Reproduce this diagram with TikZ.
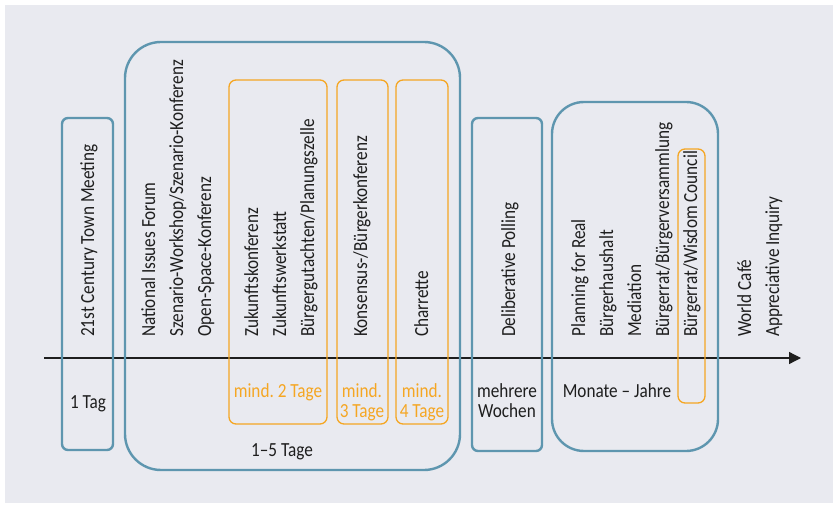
\documentclass[tikz,border=0pt]{standalone}
\usepackage{fontspec}
\setmainfont{Carlito}[FakeStretch=0.86]
\usetikzlibrary{arrows.meta}
\definecolor{bg}{HTML}{E9EAF0}
\definecolor{frameblue}{HTML}{5E96AF}
\definecolor{markorange}{HTML}{F5A623}
\definecolor{ink}{HTML}{1E1E1E}
\frenchspacing

\begin{document}
\begin{tikzpicture}[x=1pt,y=-1pt,
  bluebox/.style={draw=frameblue,line width=2.4pt},
  orangebox/.style={draw=markorange,line width=1.3pt},
  txt/.style={inner sep=0pt,text=ink,font=\fontsize{20}{24}\selectfont},
  method/.style={txt,rotate=90,anchor=base west},
  dur/.style={txt,anchor=base},
  durorange/.style={dur,text=markorange},
  axisline/.style={draw=ink,line width=1.3pt,-{Triangle[length=12pt,width=12pt]}}
]
% canvas and panel
\useasboundingbox (0,0) rectangle (833,505);
\fill[white] (0,0) rectangle (833,505);
\fill[bg] (5,5) rectangle (833,503);

% time axis
\coordinate (axstart) at (44,358);
\coordinate (axend) at (801,358);
\draw[axisline] (axstart) -- (axend);

% duration groups
\draw[bluebox,rounded corners=6pt] (62,118) rectangle (113,450);
\draw[bluebox,rounded corners=36pt] (125,42) rectangle (460,470);
\draw[orangebox,rounded corners=7pt] (229,80) rectangle (327,424);
\draw[orangebox,rounded corners=7pt] (337,80) rectangle (388,424);
\draw[orangebox,rounded corners=7pt] (396,80) rectangle (448,424);
\draw[bluebox,rounded corners=6pt] (472,118) rectangle (542,451);
\draw[bluebox,rounded corners=32pt] (552,102) rectangle (718,451);
\draw[orangebox,rounded corners=7pt] (678,149) rectangle (705,403);

% methods
\node[method] (m01) at (94,337)  {21st Century Town Meeting};
\node[method] (m02) at (155,337) {National Issues Forum};
\node[method] (m03) at (183,337) {Szenario-Workshop/Szenario-Konferenz};
\node[method] (m04) at (211,337) {Open-Space-Konferenz};
\node[method] (m05) at (258,337) {Zukunftskonferenz};
\node[method] (m06) at (286,337) {Zukunftswerkstatt};
\node[method] (m07) at (314,337) {Bürgergutachten/Planungszelle};
\node[method] (m08) at (367,337) {Konsensus-/Bürgerkonferenz};
\node[method] (m09) at (428,337) {Charrette};
\node[method] (m10) at (515,337) {Deliberative Polling};
\node[method] (m11) at (585,337) {Planning for Real};
\node[method] (m12) at (613,337) {Bürgerhaushalt};
\node[method] (m13) at (641,337) {Mediation};
\node[method] (m14) at (669,337) {Bürgerrat/Bürgerversammlung};
\node[method] (m15) at (697,337) {Bürgerrat/Wisdom Council};
\node[method] (m16) at (751,337) {World Café};
\node[method] (m17) at (779,337) {Appreciative Inquiry};

% durations
\node[dur] (d01) at (88,408) {1 Tag};
\node[durorange] (d02) at (278,397) {mind. 2 Tage};
\node[durorange] (d03a) at (362,397) {mind.};
\node[durorange] (d03b) at (362,417) {3 Tage};
\node[durorange] (d04a) at (422,397) {mind.};
\node[durorange] (d04b) at (422,417) {4 Tage};
\node[dur] (d05a) at (507,397) {mehrere};
\node[dur] (d05b) at (507,417) {Wochen};
\node[dur] (d06) at (617,397) {Monate – Jahre};
\node[dur] (d07) at (282,456) {1–5 Tage};
\end{tikzpicture}
\end{document}
